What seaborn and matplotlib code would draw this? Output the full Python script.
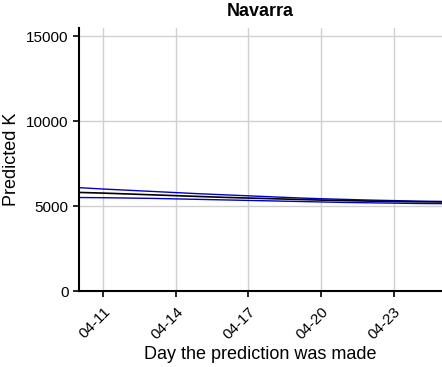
import numpy as np
import pandas as pd
import matplotlib
matplotlib.use("Agg")
import matplotlib.pyplot as plt
import matplotlib.transforms as mtransforms
import seaborn as sns

dates = pd.date_range("2020-04-10", "2020-04-25", freq="D")
k_mean = [5800, 5760, 5710, 5660, 5610, 5560, 5510, 5470, 5430, 5390, 5350, 5320, 5290, 5270, 5250, 5240]
k_upper = [6080, 6000, 5930, 5860, 5790, 5720, 5660, 5600, 5540, 5480, 5430, 5390, 5350, 5320, 5290, 5270]
k_lower = [5500, 5490, 5470, 5450, 5420, 5390, 5360, 5330, 5300, 5270, 5240, 5210, 5190, 5170, 5150, 5140]
tick_labels = ["04-11", "04-14", "04-17", "04-20", "04-23"]
tick_dates = pd.to_datetime(["2020-04-11", "2020-04-14", "2020-04-17", "2020-04-20", "2020-04-23"])

sns.set_style("whitegrid")
plt.rcParams["font.family"] = ["Liberation Sans", "DejaVu Sans"]
plt.rcParams["text.color"] = "black"
plt.rcParams["axes.labelcolor"] = "black"

df = pd.DataFrame({"date": dates, "mean": k_mean, "upper": k_upper, "lower": k_lower})

fig = plt.figure(figsize=(4.42, 3.67), dpi=100)
ax = fig.add_axes([0.179, 0.207, 0.821, 0.718])

sns.lineplot(data=df, x="date", y="upper", ax=ax, color="#0000cc", lw=1.0)
sns.lineplot(data=df, x="date", y="lower", ax=ax, color="#0000cc", lw=1.0)
sns.lineplot(data=df, x="date", y="mean", ax=ax, color="black", lw=1.2)

ax.set_xlim(pd.Timestamp("2020-04-10"), pd.Timestamp("2020-04-25"))
ax.set_ylim(0, 15500)
ax.set_yticks([0, 5000, 10000, 15000])
ax.set_xticks(tick_dates)
ax.set_xticklabels(tick_labels, rotation=45, ha="right", va="top", rotation_mode="anchor")

# nudge the rotated date labels slightly to the right
shift = mtransforms.ScaledTranslation(3 / 72, 0, fig.dpi_scale_trans)
for lab in ax.get_xticklabels():
    lab.set_transform(lab.get_transform() + shift)

ax.grid(True, color="#d0d0d0", lw=1.0)
for s in ["top", "right"]:
    ax.spines[s].set_visible(False)
for s in ["left", "bottom"]:
    ax.spines[s].set_color("black")
    ax.spines[s].set_linewidth(1.5)
ax.tick_params(axis="both", which="major", length=4, width=1.2, color="black",
               labelsize=11, labelcolor="black", bottom=True, left=True)
ax.tick_params(axis="x", pad=6)

ax.set_xlabel("Day the prediction was made", fontsize=13)
ax.set_ylabel("Predicted K", fontsize=13)
ax.xaxis.set_label_coords(0.5, -0.209)
ax.yaxis.set_label_coords(-0.163, 0.5)
ax.set_title("Navarra", fontsize=13, fontweight="bold", pad=8)

fig.savefig("out.png", dpi=100)
